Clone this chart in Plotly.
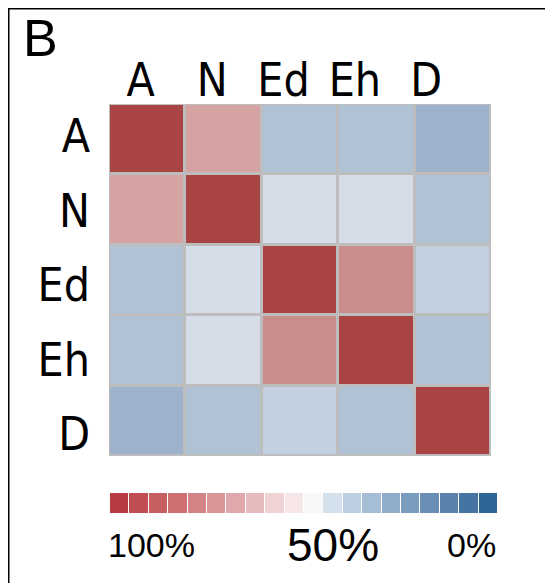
import plotly.graph_objects as go

# ---- data ----
names = ["A", "N", "Ed", "Eh", "D"]
similarity = [
    [100, 72, 30, 30, 20],
    [72, 100, 45, 45, 30],
    [30, 45, 100, 78, 38],
    [30, 45, 78, 100, 30],
    [20, 30, 38, 30, 100],
]
swatch_colors = [
    "#B83B41", "#BF4D52", "#C65E62", "#CD7074", "#D48387",
    "#DA9599", "#E0A8AB", "#E7BBBD", "#EFD2D4", "#F6E6E7",
    "#F8F8F8",
    "#D3E1EC", "#BDD0E1", "#A5BED5", "#8EADC9", "#7A9DBF",
    "#6A8FB6", "#5A81AC", "#4574A2", "#2F6698",
]
legend_labels = ["100%", "50%", "0%"]
panel_label = "B"

# page body has an 8px margin; figure fills the rest of the window
OFF = 8
W, H = 553 - OFF, 583 - OFF
def px(x): return (x - OFF) / W
def py(y): return 1 - (y - OFF) / H

cell_scale = [
    [0.0, "#7F99BB"], [0.20, "#9EB3CB"], [0.30, "#B0C2D4"], [0.38, "#C3D0E0"],
    [0.45, "#D5DDE8"], [0.72, "#D4A3A2"], [0.78, "#C98D8B"], [1.0, "#A84442"],
]
n_sw = len(swatch_colors)
swatch_scale = []
for i, c in enumerate(swatch_colors):
    swatch_scale.append([i / n_sw, c])
    swatch_scale.append([(i + 1) / n_sw, c])
swatch_scale[0][0] = 0.0
swatch_scale[-1][0] = 1.0

idx = list(range(len(names)))

fig = go.Figure()
fig.add_trace(go.Heatmap(
    z=similarity, x=idx, y=idx, zmin=0, zmax=100,
    colorscale=cell_scale, showscale=False, xgap=3, ygap=3,
    xaxis="x", yaxis="y", hoverinfo="skip",
))
fig.add_trace(go.Heatmap(
    z=[list(range(n_sw))], zmin=-0.5, zmax=n_sw - 0.5,
    colorscale=swatch_scale, showscale=False, xgap=1,
    xaxis="x2", yaxis="y2", hoverinfo="skip",
))
# invisible trace carrying the label axes
fig.add_trace(go.Scatter(
    x=idx, y=idx, mode="markers", marker=dict(opacity=0),
    xaxis="x3", yaxis="y3", hoverinfo="skip", showlegend=False,
))

label_font = dict(family="Liberation Sans Narrow, Arial Narrow, DejaVu Sans Condensed, sans-serif",
                  size=46, color="black")

fig.update_layout(
    width=W, height=H, margin=dict(l=0, r=0, t=0, b=0),
    paper_bgcolor="white", plot_bgcolor="rgba(0,0,0,0)", showlegend=False,
    xaxis=dict(domain=[px(109), px(491)], range=[-0.5, 4.5], visible=False, anchor="y"),
    yaxis=dict(domain=[py(456), py(104)], range=[4.5, -0.5], visible=False, anchor="x"),
    xaxis2=dict(domain=[px(110), px(498)], range=[-0.5, n_sw - 0.5], visible=False, anchor="y2"),
    yaxis2=dict(domain=[py(513), py(493)], range=[-0.5, 0.5], visible=False, anchor="x2"),
    xaxis3=dict(domain=[px(105), px(462)], range=[-0.5, 4.5],
                tickvals=idx, ticktext=names, side="top",
                anchor="free", position=py(105),
                showgrid=False, zeroline=False, showline=False, ticks="",
                tickfont=label_font),
    yaxis3=dict(domain=[py(471), py(99)], range=[4.5, -0.5],
                tickvals=idx, ticktext=names,
                anchor="free", position=px(90),
                showgrid=False, zeroline=False, showline=False, ticks="",
                tickfont=label_font),
)

# grid background and outer border under the cells
fig.add_shape(type="rect", xref="x", yref="y", x0=-0.5, x1=4.5, y0=-0.5, y1=4.5,
              fillcolor="#BDBDBD", line=dict(color="#BDBDBD", width=2), layer="below")
# panel frame (left and top visible)
fig.add_shape(type="line", xref="paper", yref="paper", x0=px(8), x1=px(8),
              y0=0, y1=py(7.5), line=dict(color="black", width=3))
fig.add_shape(type="line", xref="paper", yref="paper", x0=px(8), x1=1,
              y0=py(8), y1=py(8), line=dict(color="black", width=3))

fig.add_annotation(text=panel_label, xref="paper", yref="paper", x=px(21), y=py(38),
                   xanchor="left", yanchor="middle", showarrow=False,
                   font=dict(family="Liberation Sans, Arial, sans-serif", size=52, color="black"))

leg_pos = [(-0.5, "left", 34, -4), (11.0, "center", 46, 0), (n_sw - 0.5, "right", 34, 0)]
for lab, (xpos, anchor, size, shift) in zip(legend_labels, leg_pos):
    fig.add_annotation(text=lab, xref="x2", yref="paper", x=xpos, y=py(545),
                       xanchor=anchor, yanchor="middle", showarrow=False, xshift=shift,
                       font=dict(family="Liberation Sans, Arial, sans-serif", size=size, color="black"))

fig.write_html("out.html")
